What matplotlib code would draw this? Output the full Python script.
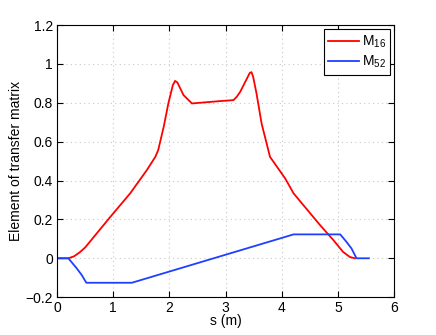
import matplotlib
matplotlib.use('Agg')
import matplotlib.pyplot as plt

plt.rcParams['font.family'] = ['Liberation Sans', 'DejaVu Sans']
plt.rcParams['mathtext.fontset'] = 'custom'
plt.rcParams['mathtext.rm'] = 'Liberation Sans'
plt.rcParams['mathtext.it'] = 'Liberation Sans'

# M16 (red)
s16 = [0, 0.2, 0.3, 0.4, 0.5, 0.95, 1.30, 1.60, 1.75, 1.80, 1.90, 1.98, 2.06, 2.10,
       2.14, 2.25, 2.40, 2.90, 3.14, 3.20, 3.26, 3.43, 3.46, 3.49, 3.55, 3.64, 3.79,
       4.06, 4.21, 4.68, 4.92, 5.09, 5.21, 5.30]
m16 = [0, 0, 0.01, 0.03, 0.056, 0.214, 0.334, 0.455, 0.523, 0.557, 0.68, 0.797, 0.891, 0.913,
       0.905, 0.84, 0.797, 0.809, 0.814, 0.832, 0.857, 0.954, 0.958, 0.934, 0.848, 0.694, 0.522,
       0.411, 0.334, 0.171, 0.093, 0.033, 0.007, 0]

# M52 (blue)
s52 = [0, 0.2, 0.35, 0.44, 0.52, 1.33, 4.21, 5.04, 5.15, 5.24, 5.33, 5.55]
m52 = [0, 0, -0.052, -0.087, -0.126, -0.126, 0.123, 0.123, 0.085, 0.051, 0, 0]

fig = plt.figure(figsize=(4.36, 3.35), dpi=100)
ax = fig.add_axes([0.131, 0.113, 0.773, 0.812])

ax.plot(s16, m16, color='#ff0000', lw=1.3, label='M$_{16}$')
ax.plot(s52, m52, color='#1f3fff', lw=1.3, label='M$_{52}$')

ax.set_xlim(0, 6)
ax.set_ylim(-0.2, 1.2)
ax.set_xticks([0, 1, 2, 3, 4, 5, 6])
ax.set_yticks([-0.2, 0, 0.2, 0.4, 0.6, 0.8, 1, 1.2])
ax.set_yticklabels(['\u22120.2', '0', '0.2', '0.4', '0.6', '0.8', '1', '1.2'])
ax.tick_params(direction='in', top=True, right=True, labelsize=10, length=4, pad=3)
ax.grid(True, linestyle=(0, (1, 3)), color='#c8c8c8', linewidth=0.8)
ax.set_xlabel('s (m)', fontsize=10, labelpad=-1)
ax.set_ylabel('Element of transfer matrix', fontsize=10, labelpad=2)

leg = ax.legend(loc='upper right', fontsize=10, fancybox=False, framealpha=1,
                edgecolor='black', borderaxespad=0.3, handlelength=2.2,
                handletextpad=0.2, borderpad=0.3, labelspacing=0.3)
leg.get_frame().set_linewidth(0.8)

fig.savefig('out.png', dpi=100)
